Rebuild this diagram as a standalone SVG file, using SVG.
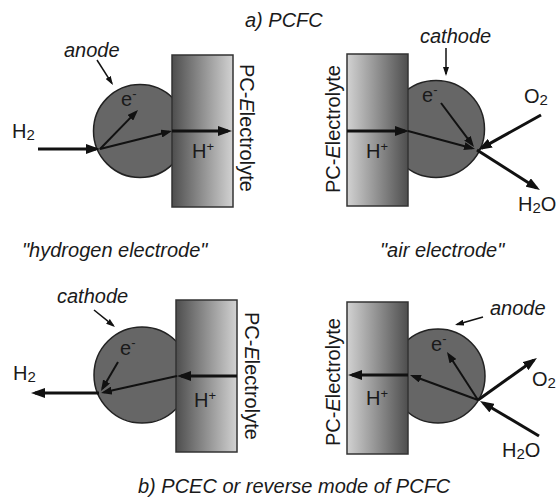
<svg xmlns="http://www.w3.org/2000/svg" width="556" height="499" viewBox="0 0 556 499">
<style>
text{font-family:"Liberation Sans",Arial,sans-serif;font-size:20px;fill:#1a1a1a}
.it{font-style:italic;font-size:20px}
.pc{font-size:20px}
.sub{font-size:15px}
.sup{font-size:13px}
.cell{fill:#666;stroke:#222;stroke-width:1.5}
.ely{stroke:#333;stroke-width:1.5}
.big{stroke:#111;stroke-width:3;fill:none;marker-end:url(#ahb)}
.mid{stroke:#111;stroke-width:2;fill:none;marker-end:url(#ahm)}
.ptr{stroke:#111;stroke-width:1.5;fill:none;marker-end:url(#ahp)}
</style>
<defs>
<linearGradient id="gL" x1="0" y1="0" x2="1" y2="0"><stop offset="0" stop-color="#4e4e4e"/><stop offset="1" stop-color="#d2d2d2"/></linearGradient>
<linearGradient id="gR" x1="0" y1="0" x2="1" y2="0"><stop offset="0" stop-color="#d2d2d2"/><stop offset="1" stop-color="#4e4e4e"/></linearGradient>
<marker id="ahb" viewBox="0 0 14 10" refX="10" refY="5" markerWidth="14" markerHeight="10" markerUnits="userSpaceOnUse" orient="auto"><path d="M0,0 L14,5 L0,10 z" fill="#111"/></marker>
<marker id="ahm" viewBox="0 0 11 8" refX="8" refY="4" markerWidth="11" markerHeight="8" markerUnits="userSpaceOnUse" orient="auto"><path d="M0,0 L11,4 L0,8 z" fill="#111"/></marker>
<marker id="ahp" viewBox="0 0 9 6" refX="7" refY="3" markerWidth="9" markerHeight="6" markerUnits="userSpaceOnUse" orient="auto"><path d="M0,0 L9,3 L0,6 z" fill="#111"/></marker>
</defs>
<rect width="556" height="499" fill="#fff"/>

<g id="titles">
<text class="it" x="245" y="27">a) PCFC</text>
<text class="it" x="22" y="257">"hydrogen electrode"</text>
<text class="it" x="380" y="257">"air electrode"</text>
<text class="it" x="138" y="493">b) PCEC or reverse mode of PCFC</text>
</g>

<g id="a-anode">
<circle class="cell" cx="140" cy="131" r="46.5"/>
<text class="it" x="64" y="57">anode</text>
<text x="121" y="106">e<tspan class="sup" dy="-8">-</tspan></text>
</g>
<g id="a-electrolyte-left">
<rect class="ely" x="172" y="55" width="61" height="152" fill="url(#gL)"/>
<text x="192" y="158">H<tspan class="sup" dy="-7">+</tspan></text>
<text class="pc" transform="translate(240,64) rotate(90)">PC-<tspan font-style="italic">E</tspan>lectrolyte</text>
</g>
<g id="a-h2-in"><text x="12" y="138">H<tspan class="sub" dy="2">2</tspan></text></g>

<g id="a-cathode">
<circle class="cell" cx="436" cy="129" r="48.5"/>
<text class="it" x="420" y="43">cathode</text>
<text x="422" y="102">e<tspan class="sup" dy="-8">-</tspan></text>
</g>
<g id="a-electrolyte-right">
<rect class="ely" x="347" y="54" width="61" height="152" fill="url(#gR)"/>
<text x="366" y="158">H<tspan class="sup" dy="-7">+</tspan></text>
<text class="pc" transform="translate(340,193) rotate(-90)">PC-<tspan font-style="italic">E</tspan>lectrolyte</text>
</g>
<g id="a-o2-in"><text x="524" y="103">O<tspan class="sub" dy="2">2</tspan></text></g>
<g id="a-h2o-out"><text x="518" y="211">H<tspan class="sub" dy="2">2</tspan><tspan dy="-2">O</tspan></text></g>

<g id="b-cathode">
<circle class="cell" cx="142" cy="375" r="48"/>
<text class="it" x="57" y="303">cathode</text>
<text x="120" y="355">e<tspan class="sup" dy="-8">-</tspan></text>
</g>
<g id="b-electrolyte-left">
<rect class="ely" x="176" y="300" width="61" height="152" fill="url(#gL)"/>
<text x="194" y="407">H<tspan class="sup" dy="-7">+</tspan></text>
<text class="pc" transform="translate(245,312) rotate(90)">PC-<tspan font-style="italic">E</tspan>lectrolyte</text>
</g>
<g id="b-h2-out"><text x="13" y="380">H<tspan class="sub" dy="2">2</tspan></text></g>

<g id="b-anode">
<circle class="cell" cx="438" cy="376" r="47"/>
<text class="it" x="490" y="315">anode</text>
<text x="431" y="351">e<tspan class="sup" dy="-8">-</tspan></text>
</g>
<g id="b-electrolyte-right">
<rect class="ely" x="347" y="302" width="61" height="152" fill="url(#gR)"/>
<text x="366" y="405">H<tspan class="sup" dy="-7">+</tspan></text>
<text class="pc" transform="translate(340,446) rotate(-90)">PC-<tspan font-style="italic">E</tspan>lectrolyte</text>
</g>
<g id="b-o2-out"><text x="532" y="386">O<tspan class="sub" dy="2">2</tspan></text></g>
<g id="b-h2o-in"><text x="502" y="457">H<tspan class="sub" dy="2">2</tspan><tspan dy="-2">O</tspan></text></g>

<g id="connectors">
<line class="big" x1="38" y1="149" x2="96" y2="149"/>
<line class="mid" x1="100" y1="149" x2="135.9" y2="112.1"/>
<line class="mid" x1="100" y1="149" x2="169.1" y2="131.7"/>
<line class="big" x1="172" y1="131" x2="228" y2="131"/>
<line class="ptr" x1="97" y1="60" x2="111.9" y2="83.3"/>

<line class="big" x1="347" y1="131" x2="405" y2="131"/>
<line class="mid" x1="408" y1="131" x2="472.1" y2="148.2"/>
<line class="mid" x1="441" y1="103" x2="472.2" y2="144.6"/>
<line class="big" x1="541" y1="115" x2="481.5" y2="148.1"/>
<line class="big" x1="477" y1="150" x2="536.6" y2="187.9"/>
<line class="ptr" x1="446" y1="48" x2="446" y2="74"/>

<line class="big" x1="237" y1="376" x2="181" y2="376"/>
<line class="mid" x1="177" y1="376" x2="103.9" y2="392.3"/>
<line class="mid" x1="118" y1="362" x2="102.5" y2="388.4"/>
<line class="big" x1="99" y1="393" x2="35" y2="393"/>
<line class="ptr" x1="94" y1="310" x2="113.4" y2="325.7"/>

<line class="big" x1="408" y1="375" x2="352" y2="375"/>
<line class="mid" x1="478" y1="400" x2="412.8" y2="376"/>
<line class="mid" x1="478" y1="400" x2="448.6" y2="354.5"/>
<line class="big" x1="478" y1="400" x2="533.7" y2="360.3"/>
<line class="big" x1="539" y1="436" x2="483.4" y2="403"/>
<line class="ptr" x1="483" y1="317" x2="456.9" y2="324.5"/>
</g>
</svg>
